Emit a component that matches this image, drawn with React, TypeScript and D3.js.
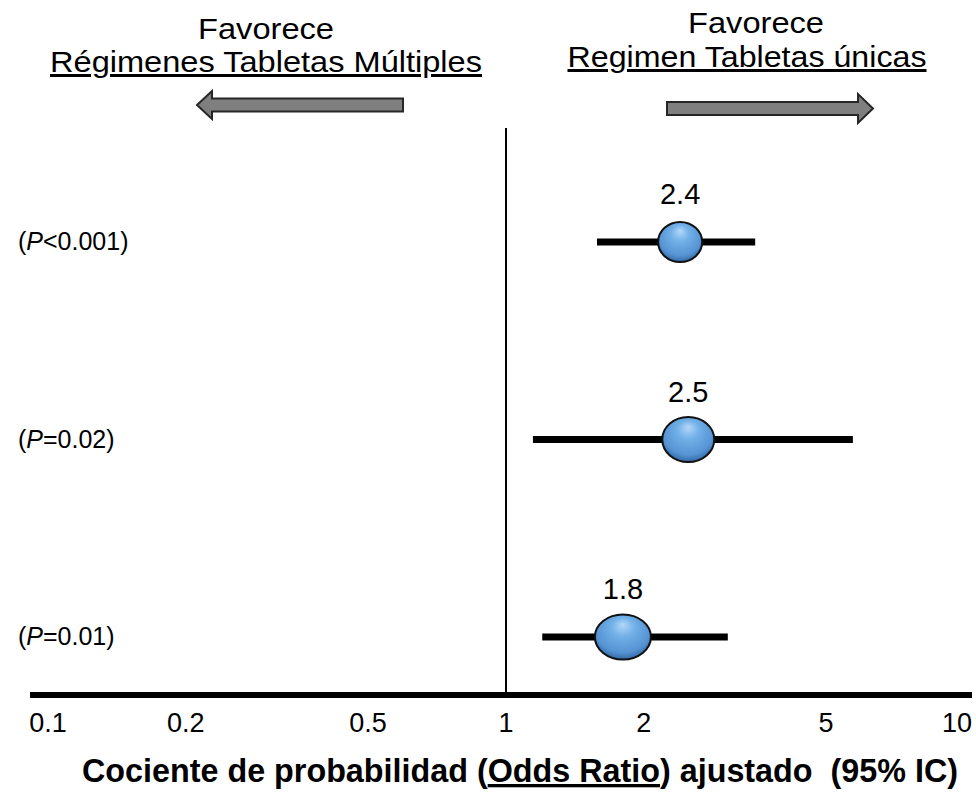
import React from "react";
import * as d3 from "d3";

const rows = ["r1", "r2", "r3"];
const pLabels = ["<0.001", "=0.02", "=0.01"];
const oddsRatios = [2.4, 2.5, 1.8];
const ciLow = [1.58, 1.145, 1.2];
const ciHigh = [3.5, 5.72, 3.05];
const tickValues = [0.1, 0.2, 0.5, 1, 2, 5, 10];
const tickLabels = ["0.1", "0.2", "0.5", "1", "2", "5", "10"];
const ellipseRx = [22, 26, 28];
const ellipseRy = [20, 22.5, 22.5];

const W = 976;
const H = 792;
const FONT = "'Liberation Sans', Arial, Helvetica, sans-serif";

export default function App() {
  const x = d3.scaleLog().domain([0.1, 10]).range([48, 964]);
  const y = d3.scalePoint<string>().domain(rows).range([242, 637]);
  const axisY = 695;
  const x1 = x(1);

  const leftArrow = d3.path();
  leftArrow.moveTo(403, 98.5);
  leftArrow.lineTo(212, 98.5);
  leftArrow.lineTo(212, 91);
  leftArrow.lineTo(197, 105);
  leftArrow.lineTo(212, 119);
  leftArrow.lineTo(212, 111.5);
  leftArrow.lineTo(403, 111.5);
  leftArrow.closePath();

  const rightArrow = d3.path();
  rightArrow.moveTo(667, 102);
  rightArrow.lineTo(858, 102);
  rightArrow.lineTo(858, 94);
  rightArrow.lineTo(873, 108.5);
  rightArrow.lineTo(858, 123);
  rightArrow.lineTo(858, 115);
  rightArrow.lineTo(667, 115);
  rightArrow.closePath();

  return (
    <svg
      width={W}
      height={H}
      style={{ position: "absolute", left: 0, top: 0, background: "#fff" }}
      fontFamily={FONT}
    >
      <defs>
        <radialGradient id="ball" cx="50%" cy="40%" r="60%" fx="50%" fy="22%">
          <stop offset="0%" stopColor="#b3d8f7" />
          <stop offset="35%" stopColor="#72b0e8" />
          <stop offset="80%" stopColor="#5593d3" />
          <stop offset="100%" stopColor="#3368a5" />
        </radialGradient>
      </defs>
      <rect width={W} height={H} fill="#fff" />

      {/* headers */}
      <text x={266} y={39} fontSize={30} textAnchor="middle" fill="#000"
        textLength={136} lengthAdjust="spacingAndGlyphs">
        Favorece
      </text>
      <text
        x={266}
        y={72}
        fontSize={30}
        textAnchor="middle"
        fill="#000"
        textDecoration="underline"
        textLength={432}
        lengthAdjust="spacingAndGlyphs"
      >
        Régimenes Tabletas Múltiples
      </text>
      <text x={756} y={33} fontSize={30} textAnchor="middle" fill="#000"
        textLength={136} lengthAdjust="spacingAndGlyphs">
        Favorece
      </text>
      <text
        x={747}
        y={67}
        fontSize={30}
        textAnchor="middle"
        fill="#000"
        textDecoration="underline"
        textLength={359}
        lengthAdjust="spacingAndGlyphs"
      >
        Regimen Tabletas únicas
      </text>

      {/* arrows */}
      <path d={leftArrow.toString()} fill="#7f7f7f" stroke="#262626" strokeWidth={2} strokeLinejoin="miter" />
      <path d={rightArrow.toString()} fill="#7f7f7f" stroke="#262626" strokeWidth={2} strokeLinejoin="miter" />

      {/* reference line at OR = 1 */}
      <line x1={x1} x2={x1} y1={128} y2={axisY} stroke="#000" strokeWidth={2} />

      {/* axis */}
      <line x1={30} x2={972} y1={axisY} y2={axisY} stroke="#000" strokeWidth={6} />
      {tickValues.map((v, i) => (
        <text key={i} x={Math.min(x(v), 957)} y={732} fontSize={27} textAnchor="middle" fill="#000">
          {tickLabels[i]}
        </text>
      ))}

      {/* rows */}
      {rows.map((r, i) => {
        const cy = y(r) as number;
        return (
          <g key={r}>
            <text x={18} y={cy + 8} fontSize={25} fill="#000">
              (<tspan fontStyle="italic">P</tspan>
              {pLabels[i]})
            </text>
            <line x1={x(ciLow[i])} x2={x(ciHigh[i])} y1={cy} y2={cy} stroke="#000" strokeWidth={7} />
            <ellipse
              cx={x(oddsRatios[i])}
              cy={cy}
              rx={ellipseRx[i]}
              ry={ellipseRy[i]}
              fill="url(#ball)"
              stroke="#111"
              strokeWidth={2}
            />
            <text x={x(oddsRatios[i])} y={cy - 38} fontSize={29} textAnchor="middle" fill="#000">
              {oddsRatios[i].toFixed(1)}
            </text>
          </g>
        );
      })}

      {/* axis title */}
      <text
        x={82}
        y={782}
        fontSize={33}
        fontWeight="bold"
        fill="#000"
        textLength={876}
        lengthAdjust="spacingAndGlyphs"
      >
        Cociente de probabilidad (<tspan textDecoration="underline">Odds Ratio</tspan>) ajustado{"\u00a0\u00a0"}(95% IC)
      </text>
    </svg>
  );
}
